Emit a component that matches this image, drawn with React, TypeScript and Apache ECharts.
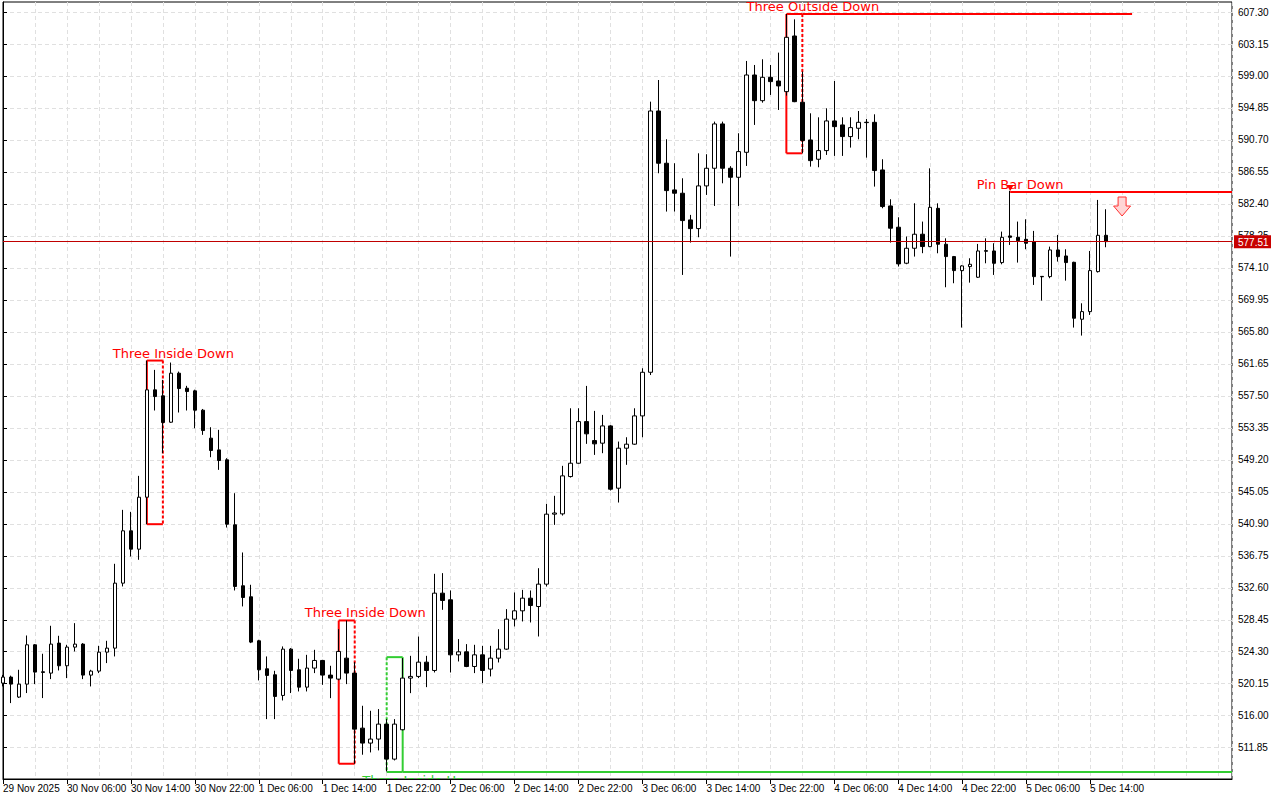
import React, { useEffect, useRef } from "react";
import * as echarts from "echarts";

// ---------- DATA ----------
const xLabels = [
  "29 Nov 2025", "30 Nov 06:00", "30 Nov 14:00", "30 Nov 22:00", "1 Dec 06:00", "1 Dec 14:00",
  "1 Dec 22:00", "2 Dec 06:00", "2 Dec 14:00", "2 Dec 22:00", "3 Dec 06:00", "3 Dec 14:00",
  "3 Dec 22:00", "4 Dec 06:00", "4 Dec 14:00", "4 Dec 22:00", "5 Dec 06:00", "5 Dec 14:00",
];
const barsPerLabel = 8;

const yTicks = [
  511.85, 516.0, 520.15, 524.3, 528.45, 532.6, 536.75, 540.9, 545.05, 549.2, 553.35, 557.5,
  561.65, 565.8, 569.95, 574.1, 578.25, 582.4, 586.55, 590.7, 594.85, 599.0, 603.15, 607.3,
];

// [open, high, low, close] per hourly bar
const candles: [number, number, number, number][] = [
  [520.23, 521.3, 519.8, 521.01], [521.01, 521.2, 517.64, 520.1], [518.42, 521.96, 518.3, 520.1],
  [520.1, 526.41, 518.94, 525.2], [525.2, 525.3, 520.1, 521.66], [521.7, 524.04, 518.29, 521.62],
  [521.53, 527.67, 520.75, 525.29], [525.42, 526.37, 521.87, 522.48], [522.48, 525.2, 520.88, 524.9],
  [524.9, 528.01, 524.34, 525.29], [525.29, 525.42, 520.75, 521.27], [521.27, 521.96, 519.8, 521.79],
  [521.79, 525.07, 521.53, 524.25], [524.25, 525.72, 522.83, 524.77], [524.77, 535.71, 523.69, 533.2],
  [533.2, 542.71, 532.77, 539.99], [539.99, 542.45, 536.66, 537.61], [537.61, 547.12, 536.23, 544.35],
  [544.35, 562.08, 540.85, 558.28], [558.28, 560.87, 555.6, 557.41], [557.5, 559.57, 550.06, 554.04],
  [554.08, 561.82, 554.0, 560.44], [560.44, 560.65, 555.34, 558.45], [558.49, 558.8, 555.6, 558.06],
  [558.15, 558.3, 553.3, 555.64], [555.64, 555.8, 552.44, 553.0], [552.01, 553.43, 549.54, 550.41],
  [550.49, 553.09, 547.9, 549.11], [549.2, 549.41, 540.42, 540.85], [540.77, 544.87, 532.25, 532.77],
  [532.86, 537.18, 530.18, 531.34], [531.43, 532.99, 525.42, 525.55], [525.72, 525.85, 520.58, 521.96],
  [522.09, 523.69, 515.56, 521.23], [521.31, 521.83, 515.56, 518.5], [518.63, 524.99, 517.98, 524.64],
  [524.64, 524.77, 518.94, 521.87], [521.96, 523.39, 519.15, 519.71], [519.71, 523.9, 519.15, 522.18],
  [522.18, 524.55, 521.53, 523.17], [523.17, 523.25, 520.01, 521.27], [521.27, 522.48, 518.28, 520.88],
  [520.75, 527.23, 520.6, 524.34], [523.47, 528.36, 520.1, 521.53], [521.53, 522.95, 509.77, 514.26],
  [514.39, 517.29, 510.94, 512.45], [512.45, 516.64, 511.24, 512.97], [512.97, 516.86, 511.5, 514.91],
  [514.91, 515.56, 508.77, 510.37], [510.37, 515.56, 510.2, 514.91], [514.18, 523.47, 514.1, 520.88],
  [520.88, 523.77, 518.93, 521.1], [521.1, 526.28, 520.88, 522.95], [522.95, 523.77, 519.71, 521.87],
  [521.87, 534.41, 521.61, 531.9], [531.9, 534.5, 529.74, 530.95], [531.04, 532.25, 521.61, 523.9],
  [523.9, 525.94, 523.04, 524.29], [524.29, 525.29, 522.3, 522.39], [522.39, 525.2, 521.53, 523.9],
  [523.9, 525.07, 520.23, 521.87], [522.05, 525.07, 521.1, 523.47], [523.47, 527.23, 522.91, 524.64],
  [524.64, 529.83, 524.55, 528.53], [528.53, 531.99, 527.58, 529.61], [529.61, 532.33, 528.23, 531.25],
  [531.25, 532.25, 528.1, 530.3], [530.17, 535.14, 526.28, 533.07], [533.07, 543.49, 532.77, 542.15],
  [542.15, 544.53, 540.76, 542.3], [542.19, 548.42, 541.97, 547.12], [547.03, 555.89, 546.9, 548.76],
  [548.76, 555.89, 548.7, 554.16], [554.16, 558.79, 551.27, 552.57], [551.7, 555.55, 549.84, 551.27],
  [551.36, 555.03, 550.06, 553.6], [553.6, 553.7, 545.22, 545.39], [545.52, 551.57, 543.66, 550.71],
  [550.71, 552.13, 548.55, 551.23], [551.23, 555.89, 551.15, 554.9], [554.9, 561.08, 552.13, 560.56],
  [560.56, 595.67, 560.2, 594.46], [594.46, 598.48, 586.38, 587.68], [587.68, 590.79, 581.41, 584.13],
  [584.22, 587.68, 581.41, 583.79], [583.79, 585.73, 573.19, 580.24], [580.33, 580.98, 577.39, 579.2],
  [579.2, 588.97, 578.08, 584.74], [584.74, 588.85, 583.57, 587.03], [587.03, 593.08, 582.14, 592.78],
  [592.78, 593.08, 585.08, 587.03], [587.03, 587.3, 575.57, 585.86], [585.86, 591.57, 582.14, 589.19],
  [589.1, 600.95, 587.33, 599.13], [599.13, 600.43, 592.65, 595.8], [595.8, 601.17, 595.54, 598.83],
  [598.83, 600.43, 596.54, 598.27], [598.35, 602.03, 594.59, 597.71], [596.97, 607.04, 596.45, 604.02],
  [604.19, 606.35, 595.6, 595.67], [595.59, 599.57, 588.97, 590.62], [590.7, 594.16, 587.24, 588.02],
  [588.2, 593.64, 587.16, 589.32], [589.32, 594.81, 588.76, 593.17], [593.17, 598.35, 588.63, 592.43],
  [592.65, 593.64, 588.63, 591.14], [591.14, 593.64, 589.71, 592.3], [592.22, 594.46, 590.79, 592.99],
  [593.0, 593.43, 588.41, 592.95], [592.99, 594.03, 584.65, 586.73], [586.81, 588.2, 581.84, 582.06],
  [582.14, 583.01, 577.39, 579.25], [579.38, 580.67, 574.28, 574.62], [574.71, 578.17, 574.58, 576.65],
  [576.65, 582.49, 575.57, 578.47], [578.47, 580.11, 576.01, 576.87], [576.86, 587.02, 576.8, 581.96],
  [581.83, 582.48, 576.0, 577.17], [577.17, 577.94, 571.59, 575.57], [575.57, 575.65, 572.11, 573.75],
  [573.75, 574.45, 566.36, 574.36], [574.27, 575.35, 572.19, 574.57], [572.89, 577.21, 572.8, 576.3],
  [576.25, 577.94, 574.7, 576.35], [576.3, 577.3, 573.19, 574.7], [574.79, 578.81, 574.57, 578.07],
  [578.25, 584.1, 577.08, 578.07], [578.07, 580.11, 574.79, 577.64], [577.81, 580.41, 576.52, 577.3],
  [577.51, 578.9, 571.89, 572.97], [573.0, 573.05, 569.86, 572.95], [572.97, 576.86, 572.76, 576.43],
  [576.43, 578.38, 574.92, 575.57], [575.65, 576.52, 572.45, 574.79], [574.83, 574.9, 566.36, 567.57],
  [567.44, 569.51, 565.32, 568.43], [568.43, 576.3, 568.0, 573.75], [573.62, 582.92, 573.5, 578.33],
  [578.33, 581.71, 576.78, 577.51],
];
const lastPrice = 577.51;

// candlestick patterns
const patternNames = ["Three Inside Down", "Three Inside Down", "Three Inside Up", "Three Outside Down"];
const patternStart = [18, 42, 48, 98];
const patternEnd = [20, 44, 50, 100];
const patternHigh = [562.08, 528.36, 523.6, 607.04];
const patternLow = [540.85, 509.77, 508.7, 588.97];
const patternBullish = [false, false, true, false];
const patternLevelEnd: (number | null)[] = [null, null, 153.75, 141.25];

const pinBarName = "Pin Bar Down";
const pinBarIndex = 126;
const pinBarLevel = 583.95;

const signalArrowIndex = 140;
const signalArrowPrice = 583.3;

// ---------- LAYOUT / STYLE ----------
const X_MIN = 0;
const X_MAX = 153.75;
const Y_MIN = 507.79;
const Y_MAX = 608.6;
const RED = "#ff0000";
const GREEN = "#32cd32";
const AXIS_FONT = "Liberation Sans";
const NOTE_FONT = "DejaVu Sans";
const GRID_DASH = { color: "#e0e0e0", width: 1, type: [4, 3] as number[] };

export default function App() {
  const ref = useRef<HTMLDivElement>(null);

  useEffect(() => {
    document.body.style.margin = "0";
    if (!ref.current) return;
    const chart = echarts.init(ref.current, undefined, { renderer: "svg" });

    const labelIdx = xLabels.map((_, i) => i * barsPerLabel);

    const option: any = {
      animation: false,
      backgroundColor: "#ffffff",
      grid: {
        left: 2, top: 2, right: 48, bottom: 21,
        show: true, borderColor: "#000", borderWidth: 1, backgroundColor: "transparent",
      },
      xAxis: [
        {
          type: "value", min: X_MIN, max: X_MAX, interval: 4, position: "bottom",
          axisLine: { show: true, lineStyle: { color: "#000", width: 1 } },
          axisTick: { show: false },
          axisLabel: { show: false },
          splitLine: { show: true, lineStyle: GRID_DASH },
        },
        {
          type: "value", min: X_MIN, max: X_MAX, position: "bottom",
          axisLine: { show: false },
          axisTick: { show: true, customValues: labelIdx, length: 5, lineStyle: { color: "#000" } },
          axisLabel: {
            show: true, customValues: labelIdx, align: "left", margin: 4,
            color: "#000", fontFamily: AXIS_FONT, fontSize: 10,
            formatter: (v: number) => xLabels[Math.round(v / barsPerLabel)] ?? "",
          },
          splitLine: { show: false },
        },
      ],
      yAxis: {
        type: "value", position: "right", min: Y_MIN, max: Y_MAX, scale: true,
        axisLine: { show: true, lineStyle: { color: "#000", width: 1 } },
        axisTick: { show: true, customValues: yTicks, length: 4, lineStyle: { color: "#000" } },
        axisLabel: {
          show: true, customValues: yTicks, margin: 6, color: "#000",
          fontFamily: AXIS_FONT, fontSize: 10,
          formatter: (v: number) => v.toFixed(2),
        },
        splitLine: { show: true, lineStyle: GRID_DASH },
      },
      series: [
        {
          type: "custom",
          xAxisIndex: 0, yAxisIndex: 0,
          clip: true, silent: true, z: 1,
          data: patternNames.map((_, i) => [patternStart[i], patternHigh[i], patternEnd[i], patternLow[i]]),
          encode: { x: [0, 2], y: [1, 3] },
          renderItem: (params: any, api: any) => {
            const i = params.dataIndex;
            const bull = patternBullish[i];
            const color = bull ? GREEN : RED;
            const [x1, yTop] = api.coord([patternStart[i], patternHigh[i]]);
            const [x2, yBot] = api.coord([patternEnd[i], patternLow[i]]);
            const solid = { stroke: color, lineWidth: 2, fill: null };
            const dashed = { stroke: color, lineWidth: 2, lineDash: [3, 2], fill: null };
            const children: any[] = [
              { type: "line", shape: { x1, y1: yTop, x2, y2: yTop }, style: solid },
              { type: "line", shape: { x1, y1: yBot, x2, y2: yBot }, style: solid },
              { type: "line", shape: { x1, y1: yTop, x2: x1, y2: yBot }, style: bull ? dashed : solid },
              { type: "line", shape: { x1: x2, y1: yTop, x2, y2: yBot }, style: bull ? solid : dashed },
            ];
            const ext = patternLevelEnd[i];
            if (ext != null) {
              const xe = api.coord([ext, patternHigh[i]])[0];
              const ye = bull ? yBot : yTop;
              children.push({ type: "line", shape: { x1: x2, y1: ye, x2: xe, y2: ye }, style: solid });
            }
            children.push({
              type: "text",
              x: (x1 + x2) / 2 + 18.5,
              y: bull ? yBot + 2 : yTop - 1,
              style: {
                text: patternNames[i], fill: color, fontFamily: NOTE_FONT, fontSize: 13,
                align: "center", verticalAlign: bull ? "top" : "bottom",
              },
            });
            return { type: "group", children };
          },
        },
        {
          type: "custom",
          xAxisIndex: 0, yAxisIndex: 0,
          clip: true, silent: true, z: 1,
          data: [[pinBarIndex, pinBarLevel]],
          encode: { x: 0, y: 1 },
          renderItem: (params: any, api: any) => {
            const [px, py] = api.coord([pinBarIndex, pinBarLevel]);
            const xe = api.coord([X_MAX, pinBarLevel])[0];
            const [ax, ay] = api.coord([signalArrowIndex, signalArrowPrice]);
            return {
              type: "group",
              children: [
                { type: "line", shape: { x1: px, y1: py, x2: xe, y2: py }, style: { stroke: RED, lineWidth: 2 } },
                {
                  type: "polygon",
                  shape: { points: [[px - 3.5, py - 7], [px + 3.5, py - 7], [px, py - 1]] },
                  style: { fill: RED },
                },
                {
                  type: "text", x: px + 10, y: py - 1,
                  style: {
                    text: pinBarName, fill: RED, fontFamily: NOTE_FONT, fontSize: 13,
                    align: "center", verticalAlign: "bottom",
                  },
                },
                {
                  type: "polygon",
                  shape: {
                    points: [
                      [ax - 4, ay], [ax + 4, ay], [ax + 4, ay + 9], [ax + 8.5, ay + 9],
                      [ax, ay + 19], [ax - 8.5, ay + 9], [ax - 4, ay + 9],
                    ],
                  },
                  style: { fill: "#ffd6d6", stroke: "#ff3030", lineWidth: 1 },
                },
              ],
            };
          },
        },
        {
          type: "candlestick",
          xAxisIndex: 0, yAxisIndex: 0, z: 2,
          dimensions: ["idx", "open", "close", "lowest", "highest"],
          encode: { x: "idx", y: ["open", "close", "lowest", "highest"] },
          data: candles.map(([o, h, l, c], i) => [i, o, c, l, h]),
          barWidth: 4,
          itemStyle: {
            color: "#ffffff", color0: "#000000",
            borderColor: "#000000", borderColor0: "#000000", borderColorDoji: "#000000",
            borderWidth: 1,
          },
          markLine: {
            silent: true, symbol: "none", animation: false,
            label: { show: false },
            lineStyle: { color: "#c00000", width: 1, type: "solid" },
            data: [{ yAxis: lastPrice }],
          },
        },
        {
          type: "custom",
          xAxisIndex: 0, yAxisIndex: 0,
          clip: false, silent: true, z: 20,
          data: [[X_MAX, lastPrice]],
          encode: { x: 0, y: 1 },
          renderItem: (params: any, api: any) => {
            const y = api.coord([X_MIN, lastPrice])[1];
            const cs = params.coordSys;
            const x = cs.x + cs.width + 2;
            return {
              type: "group",
              children: [
                { type: "rect", shape: { x, y: y - 6.5, width: 37, height: 13 }, style: { fill: "#c80000" } },
                {
                  type: "text", x: x + 4, y: y + 0.5,
                  style: {
                    text: lastPrice.toFixed(2), fill: "#ffffff", fontFamily: AXIS_FONT, fontSize: 10,
                    align: "left", verticalAlign: "middle",
                  },
                },
              ],
            };
          },
        },
      ],
    };

    chart.setOption(option);
    return () => chart.dispose();
  }, []);

  return <div ref={ref} style={{ width: 1280, height: 800 }} />;
}
